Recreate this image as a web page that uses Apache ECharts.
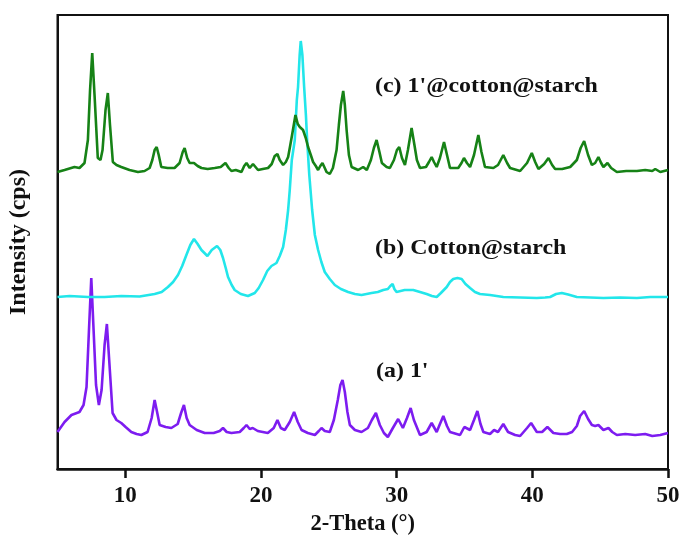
<!DOCTYPE html>
<html>
<head>
<meta charset="utf-8">
<script src="https://cdn.jsdelivr.net/npm/echarts@6/dist/echarts.min.js"></script>
<style>
  html, body { margin: 0; padding: 0; background: #fff; }
  #chart { width: 684px; height: 539px; }
</style>
</head>
<body>
<div id="chart"></div>
<script>
// XRD patterns, stacked with vertical offsets: [2-theta (deg), intensity (a.u.)]
const patternA = [ // (a) 1'
  [5.00,37],[5.52,47],[6.03,54],[6.62,57],[6.92,64],[7.14,82],[7.32,139],[7.49,191],[7.66,139],
  [7.84,84],[8.05,64],[8.25,79],[8.47,124],[8.64,145],[8.81,109],[9.06,56],[9.35,49],[9.70,46],
  [10.02,42],[10.44,37],[10.83,35],[11.18,34],[11.64,37],[11.94,51],[12.16,69],[12.34,57],[12.53,44],
  [12.97,42],[13.39,41],[13.86,45],[14.11,56],[14.32,64],[14.52,51],[14.74,44],[15.26,39],[15.85,36],
  [16.51,36],[16.96,38],[17.20,41],[17.47,37],[17.82,36],[18.43,37],[18.73,41],[18.93,44],[19.17,40],
  [19.39,41],[19.76,38],[20.50,36],[20.94,41],[21.21,49],[21.46,41],[21.75,39],[22.12,47],[22.44,57],
  [22.71,47],[22.99,39],[23.45,36],[23.97,34],[24.26,38],[24.46,41],[24.70,38],[25.07,37],[25.37,49],
  [25.66,69],[25.85,84],[26.01,89],[26.18,77],[26.37,57],[26.55,44],[26.92,39],[27.41,37],[27.88,41],
  [28.17,49],[28.47,56],[28.76,44],[29.06,36],[29.35,32],[29.72,41],[30.11,50],[30.46,41],[30.76,51],
  [31.03,61],[31.27,49],[31.72,34],[32.21,37],[32.58,46],[32.95,37],[33.19,45],[33.44,53],[33.71,43],
  [33.93,37],[34.67,34],[34.99,42],[35.41,39],[35.70,49],[35.95,58],[36.18,45],[36.39,37],[36.88,35],
  [37.18,39],[37.47,37],[37.86,45],[38.21,37],[38.73,34],[39.10,33],[39.61,41],[39.91,46],[40.33,37],
  [40.72,37],[41.11,42],[41.55,36],[42.05,35],[42.54,35],[42.93,37],[43.28,43],[43.52,53],[43.82,58],
  [44.11,50],[44.39,44],[44.63,43],[44.87,44],[45.24,39],[45.61,41],[45.89,37],[46.23,34],[46.85,35],
  [47.58,34],[48.32,35],[48.84,33],[49.43,34],[50.00,36]
];

const patternB = [ // (b) Cotton@starch
  [5.00,172],[5.89,173],[7.24,172],[8.47,172],[9.70,173],[11.05,172.5],[12.16,175],[12.68,177],
  [13.14,182],[13.52,187],[13.88,194],[14.19,203],[14.50,214],[14.79,224],[15.06,230],[15.33,225],
  [15.61,219],[16.05,213],[16.37,219],[16.76,223],[17.00,219],[17.20,211],[17.40,201],[17.57,192],
  [17.84,184],[18.06,179],[18.51,175],[19.04,173],[19.54,176],[19.83,181],[20.15,189],[20.46,198],
  [20.77,203],[21.14,206],[21.38,213],[21.63,222],[21.83,239],[22.00,259],[22.12,279],[22.27,309],
  [22.49,329],[22.64,369],[22.73,382],[22.85,414],[22.93,428],[23.05,414],[23.18,382],[23.31,354],
  [23.40,329],[23.56,294],[23.77,259],[23.97,234],[24.21,219],[24.45,207],[24.70,197],[25.07,190],
  [25.44,184],[25.89,180],[26.42,177],[26.92,175],[27.41,174],[28.15,176],[28.61,177],[29.01,179],
  [29.35,180],[29.53,183],[29.70,185],[29.83,180],[29.99,177],[30.59,179],[31.22,179],[31.72,177],
  [32.21,175],[32.60,173],[32.95,172],[33.26,176],[33.69,182],[33.93,187],[34.17,190],[34.48,191],
  [34.79,190],[35.07,185],[35.41,181],[35.77,177],[36.14,175],[36.88,174],[37.86,172],[39.10,171.5],
  [40.33,171],[40.94,171.5],[41.31,172],[41.75,175],[42.17,176],[42.64,174.5],[43.28,172],[44.26,171.5],
  [45.24,171],[46.47,171.5],[47.71,171],[48.69,172],[49.93,172],[50.00,172]
];

const patternC = [ // (c) 1'@cotton@starch
  [5.00,297],[5.52,299],[6.25,302],[6.62,301],[6.99,306],[7.24,329],[7.40,379],[7.56,416],[7.73,374],
  [7.97,311],[8.17,309],[8.32,319],[8.54,359],[8.71,376],[8.87,344],[9.08,307],[9.35,304],[9.70,302],
  [10.31,299],[10.93,297],[11.42,298],[11.79,301],[11.99,309],[12.16,319],[12.31,322],[12.46,314],
  [12.65,302],[13.12,301],[13.63,301],[14.00,306],[14.23,317],[14.37,321],[14.56,311],[14.74,306],
  [15.06,306],[15.33,303],[15.61,301],[16.07,300],[16.59,301],[17.03,302],[17.38,306],[17.62,301],
  [17.82,298],[18.14,299],[18.56,297],[18.76,303],[18.93,306],[19.17,301],[19.41,305],[19.78,299],
  [20.13,300],[20.52,301],[20.79,305],[21.01,313],[21.21,315],[21.38,309],[21.63,304],[21.83,307],
  [22.00,312],[22.16,324],[22.29,334],[22.54,354],[22.71,345],[22.86,342],[23.10,339],[23.30,331],
  [23.47,322],[23.67,314],[23.84,307],[24.04,303],[24.21,299],[24.37,303],[24.53,306],[24.70,301],
  [24.83,297],[25.07,295],[25.30,301],[25.57,319],[25.74,344],[25.89,364],[26.06,378],[26.18,364],
  [26.31,339],[26.48,314],[26.68,302],[27.16,299],[27.53,302],[27.80,299],[28.10,309],[28.32,321],
  [28.52,329],[28.73,317],[28.91,306],[29.26,302],[29.50,301],[29.80,309],[30.02,319],[30.19,322],
  [30.39,311],[30.61,304],[30.83,319],[31.10,341],[31.31,324],[31.49,309],[31.72,301],[32.16,302],
  [32.38,307],[32.58,312],[32.75,307],[32.95,302],[33.19,311],[33.49,327],[33.71,314],[33.93,301],
  [34.54,301],[34.78,306],[34.96,311],[35.18,306],[35.41,302],[35.70,314],[36.02,334],[36.25,317],
  [36.51,302],[37.13,301],[37.47,304],[37.86,314],[38.14,306],[38.36,301],[39.10,298],[39.61,306],
  [39.96,316],[40.21,307],[40.45,300],[40.87,305],[41.19,311],[41.46,304],[41.68,300],[42.20,300],
  [42.79,302],[43.28,309],[43.56,321],[43.82,328],[44.11,314],[44.39,304],[44.63,306],[44.87,312],
  [45.07,306],[45.24,302],[45.54,306],[45.81,301],[46.23,297],[46.92,298],[47.71,298],[48.32,299],
  [48.84,298],[49.06,300],[49.43,297],[50.00,299]
];

const xTickValues = [10, 20, 30, 40, 50];
const seriesNames = ["(a) 1'", '(b) Cotton@starch', "(c) 1'@cotton@starch"];
const seriesColors = ['#7d1cf0', '#22e6ea', '#168216'];

const serif = '"Liberation Serif", "Times New Roman", serif';
const chart = echarts.init(document.getElementById('chart'));

const lineSeries = [patternA, patternB, patternC].map((d, i) => ({
  name: seriesNames[i],
  type: 'line',
  data: d,
  showSymbol: false,
  smooth: false,
  lineStyle: { color: seriesColors[i], width: 2.6 },
  z: 2 + i,
  animation: false
}));

// In-plot sample labels, slightly widened bold serif
function sampleLabel(text, x, y) {
  return {
    type: 'text', x: x, y: y, scaleX: 1.14, scaleY: 1, originX: 0, originY: 0,
    style: { text: text, font: 'bold 21px ' + serif, fill: '#111', verticalAlign: 'top' }
  };
}

chart.setOption({
  animation: false,
  backgroundColor: '#ffffff',
  grid: {
    left: 57.5, right: 16, top: 15, bottom: 70,
    outerBoundsMode: 'none', containLabel: false,
    show: true, borderColor: '#111', borderWidth: 2
  },
  xAxis: {
    type: 'value', min: 5, max: 50,
    name: '2-Theta (°)', nameLocation: 'middle', nameGap: 38,
    nameTextStyle: { fontFamily: serif, fontWeight: 'bold', fontSize: 22.5, color: '#111' },
    axisLine: { show: true, lineStyle: { color: '#111', width: 2.5 } },
    axisTick: { show: true, inside: false, length: 9, customValues: xTickValues,
                lineStyle: { color: '#111', width: 2.5 } },
    axisLabel: { customValues: xTickValues, margin: 16,
                 fontFamily: serif, fontWeight: 'bold', fontSize: 23, color: '#111' },
    splitLine: { show: false }
  },
  yAxis: {
    type: 'value', min: 0, max: 454,
    name: 'Intensity (cps)', nameLocation: 'middle', nameGap: 27,
    nameTextStyle: { fontFamily: serif, fontWeight: 'bold', fontSize: 24, color: '#111' },
    axisLine: { show: true, lineStyle: { color: '#111', width: 2 } },
    axisTick: { show: false },
    axisLabel: { show: false },
    splitLine: { show: false }
  },
  graphic: [
    sampleLabel(seriesNames[2], 375, 76),
    sampleLabel(seriesNames[1], 375, 238),
    sampleLabel(seriesNames[0], 376, 361)
  ],
  series: lineSeries
});
</script>
</body>
</html>
